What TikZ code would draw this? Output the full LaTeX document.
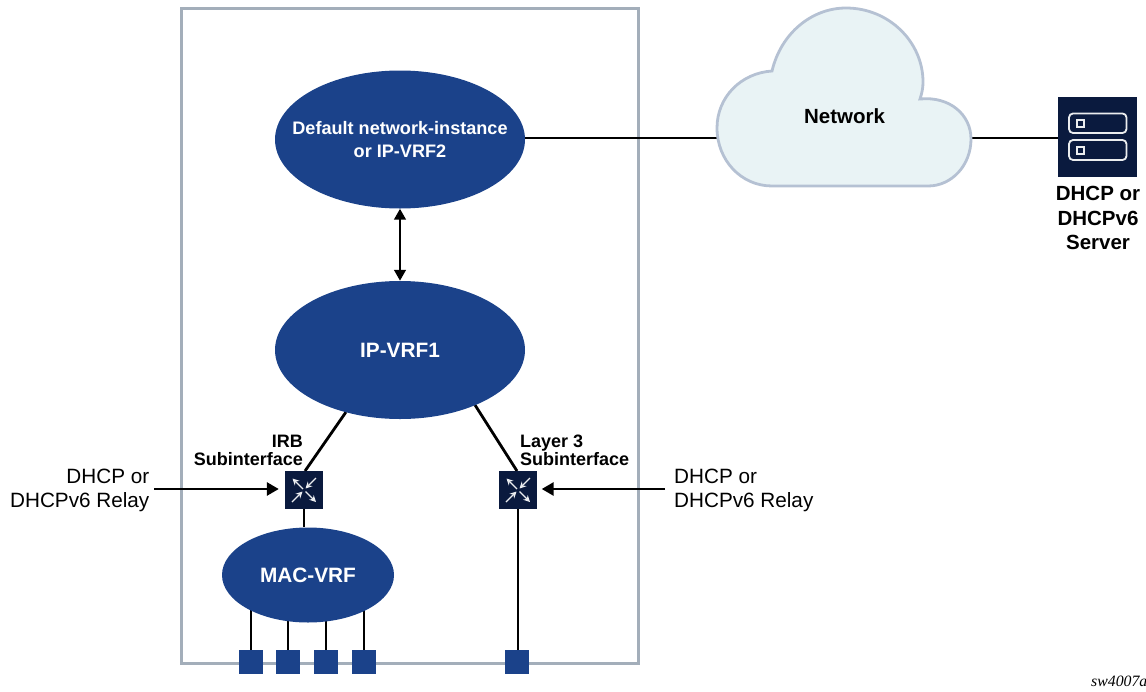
\documentclass[tikz,border=0pt]{standalone}
\usepackage{fontspec}
\setmainfont{Liberation Sans}
\newfontfamily\serifcap{Liberation Serif}
\usetikzlibrary{arrows.meta,backgrounds,shapes.geometric,calc}
\definecolor{vrfblue}{HTML}{1B428A}
\definecolor{navy}{HTML}{0A1A3E}
\definecolor{framegray}{HTML}{A3AEBA}
\definecolor{cloudfill}{HTML}{E9F3F5}
\definecolor{cloudline}{HTML}{B5C1D3}
\tikzset{
  x=1pt,y=-1pt,
  vrf/.style={ellipse,fill=vrfblue,text=white,inner sep=0pt,align=center,font=\bfseries\fontsize{20.8}{23}\selectfont},
  swbox/.style={rectangle,fill=navy,minimum size=38pt,inner sep=0pt},
  port/.style={rectangle,fill=vrfblue,minimum size=24pt,inner sep=0pt},
  conn/.style={draw=black,line width=2.8pt},
  tip/.style={-{Triangle[length=12pt,width=13pt]}},
  bitip/.style={{Triangle[length=11pt,width=11.5pt]}-{Triangle[length=11pt,width=11.5pt]}},
  blab/.style={inner sep=0pt,font=\bfseries\fontsize{18}{18.5}\selectfont},
  rlab/.style={inner sep=0pt,font=\fontsize{20.7}{24}\selectfont},
  arrowin/.style={draw=white!92!navy,line width=1.3pt,-{Stealth[length=6.5pt,width=6.5pt]}},
}
\begin{document}
\begin{tikzpicture}
\useasboundingbox (0,0) rectangle (1146,691);
% nodes
\node[vrf,inner xsep=-40pt,inner ysep=-20pt,minimum width=250pt,minimum height=138pt,font=\bfseries\fontsize{18.1}{23}\selectfont] (def) at (400,139.5) {Default network-instance\\or IP-VRF2};
\node[vrf,minimum width=250pt,minimum height=138pt] (ip) at (400,350) {IP-VRF1};
\node[vrf,minimum width=172pt,minimum height=95pt] (mac) at (308,575) {MAC-VRF};
\node[swbox] (irb) at (304,490) {};
\node[swbox] (l3) at (518,490) {};
\node[port] (p1) at (251,662) {};
\node[port] (p2) at (288,662) {};
\node[port] (p3) at (326,662) {};
\node[port] (p4) at (364,662) {};
\node[port] (p5) at (517,662) {};
\node[rectangle,fill=navy,minimum width=79pt,minimum height=80pt,inner sep=0pt] (srv) at (1097.5,137) {};
% cloud
\draw[draw=cloudline,fill=cloudfill,line width=2.8pt]
  (772,71) .. controls (781,33) and (812,8) .. (846,8)
  .. controls (889,8) and (923,42) .. (923,82)
  .. controls (923,88) and (922,93) .. (920,99)
  .. controls (950,96) and (971,115) .. (971,139)
  .. controls (971,165) and (952,186) .. (928,186)
  -- (772,186)
  .. controls (741,186) and (717,160) .. (717,128)
  .. controls (717,97) and (741,73) .. (772,71) -- cycle;
\coordinate (cloudL) at (717,138);
\coordinate (cloudR) at (971,138);
\node[inner sep=0pt,font=\bfseries\fontsize{20.5}{24}\selectfont] (net) at (844.5,116) {Network};
% server glyph
\draw[white!92!navy,line width=1.8pt,rounded corners=4pt] (1069,113.5) rectangle (1126.5,133);
\draw[white!92!navy,line width=1.8pt,rounded corners=4pt] (1069,140) rectangle (1126.5,160);
\draw[white!92!navy,line width=2pt] (1077,120) rectangle (1084,127);
\draw[white!92!navy,line width=2pt] (1077,146.5) rectangle (1084,153.5);
% switch glyphs
\foreach \s in {irb,l3}{
  \draw[arrowin] ($(\s)+(-1,-1)$) -- ($(\s)+(-11.5,-11.5)$);
  \draw[arrowin] ($(\s)+(12,-12)$) -- ($(\s)+(1.5,-1.5)$);
  \draw[arrowin] ($(\s)+(-12,12)$) -- ($(\s)+(-1.5,1.5)$);
  \draw[arrowin] ($(\s)+(1.5,1.5)$) -- ($(\s)+(12,12)$);
}
% labels
\node[inner sep=0pt,font=\bfseries\fontsize{20.5}{24.2}\selectfont,align=center] (srvlab) at (1098,218) {DHCP or\\DHCPv6\\Server};
\node[blab,align=right,anchor=east] (irblab) at (303,450.5) {IRB\\Subinterface};
\node[blab,align=left,anchor=west] (l3lab) at (520,450.5) {Layer 3\\Subinterface};
\node[rlab,align=right,anchor=east] (relL) at (149.5,490.5) {DHCP or\\DHCPv6 Relay};
\node[rlab,align=left,anchor=west] (relR) at (674,490.5) {DHCP or\\DHCPv6 Relay};
\node[inner sep=0pt,anchor=base west,font=\serifcap\itshape\fontsize{15.8}{16}\selectfont] (tag) at (1091,686) {sw4007a};
% connectors
\coordinate (ipSW) at (346,412);
\coordinate (ipSE) at (475,405);
\coordinate (irbT) at (305,471);
\coordinate (l3T) at (517,471);
\coordinate (arrL) at (154,489);
\coordinate (arrR) at (665,489);
\begin{scope}[on background layer]
  \draw[draw=framegray,line width=3pt] (181,8) rectangle (638,663);
  \draw[conn] (def.east) ++(0,-1.5) -- (cloudL);
  \draw[conn] (cloudR) -- (srv.west |- cloudR);
  \draw[conn] (ipSW) -- (irbT);
  \draw[conn] (ipSE) -- (l3T);
  \draw[conn] (irb.south) -- (irb.south |- mac.north);
  \draw[conn] (l3.south) -- (l3.south |- p5.north);
  \foreach \p in {p1,p2,p3,p4}{
    \draw[conn] (\p.north) -- (\p.north |- mac.center);
  }
\end{scope}
\draw[conn,tip] (arrL) -- ([xshift=-6pt]irb.west |- arrL);
\draw[conn,tip] (arrR) -- ([xshift=4.5pt]l3.east |- arrR);
\draw[conn,bitip] (def.south) -- (ip.north);
\end{tikzpicture}
\end{document}
